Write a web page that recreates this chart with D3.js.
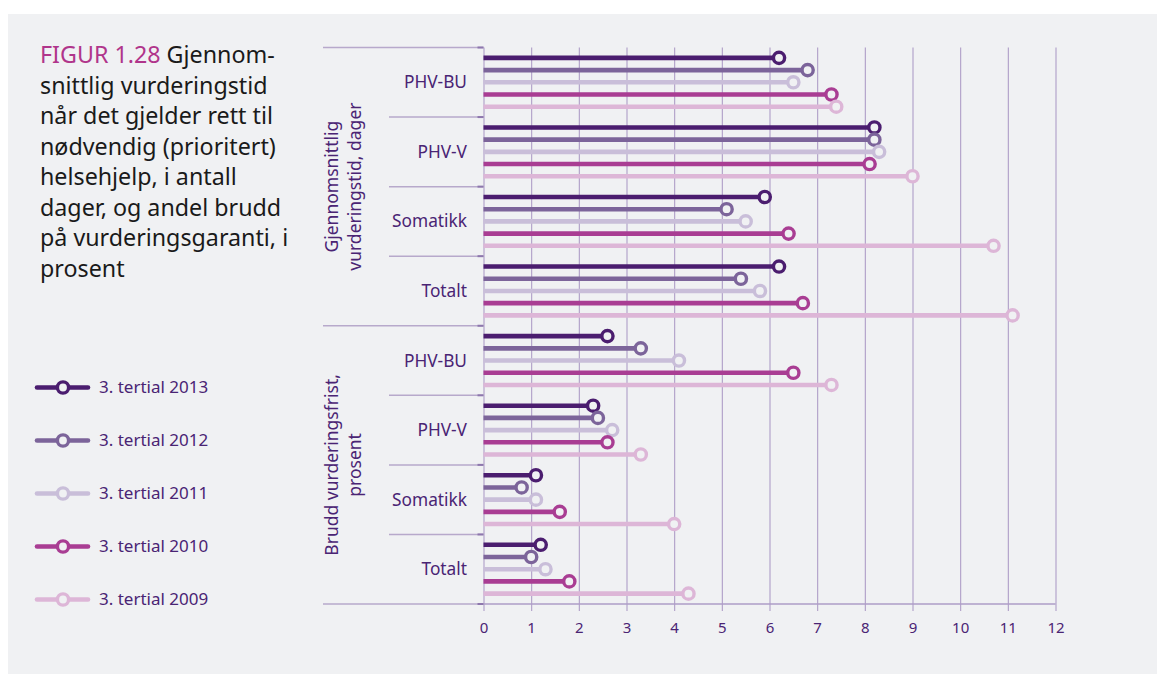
<!DOCTYPE html>
<html lang="no">
<head>
<meta charset="utf-8">
<title>Figur 1.28</title>
<script src="https://cdn.jsdelivr.net/npm/d3@7"></script>
<style>
  html, body { margin: 0; padding: 0; background: #ffffff; }
  svg { display: block; font-family: "Noto Sans", "Open Sans", sans-serif; }
</style>
</head>
<body>
<svg id="chart" width="1157" height="674"></svg>
<script>
// Rows: four categories in each of two sections
const categories = ["PHV-BU", "PHV-V", "Somatikk", "Totalt"];
const sections = [
  ["Gjennomsnittlig", "vurderingstid, dager"],
  ["Brudd vurderingsfrist,", "prosent"]
];
const seriesNames = ["3. tertial 2013", "3. tertial 2012", "3. tertial 2011", "3. tertial 2010", "3. tertial 2009"];

// Values per series: first four = days, last four = percent breaches
const values2013 = [6.2, 8.2, 5.9, 6.2, 2.6, 2.3, 1.1, 1.2];
const values2012 = [6.8, 8.2, 5.1, 5.4, 3.3, 2.4, 0.8, 1.0];
const values2011 = [6.5, 8.3, 5.5, 5.8, 4.1, 2.7, 1.1, 1.3];
const values2010 = [7.3, 8.1, 6.4, 6.7, 6.5, 2.6, 1.6, 1.8];
const values2009 = [7.4, 9.0, 10.7, 11.1, 7.3, 3.3, 4.0, 4.3];

const xTicks = [0, 1, 2, 3, 4, 5, 6, 7, 8, 9, 10, 11, 12];

const titleLines = [
  "Gjennom-",
  "snittlig vurderingstid",
  "når det gjelder rett til",
  "nødvendig (prioritert)",
  "helsehjelp, i antall",
  "dager, og andel brudd",
  "på vurderingsgaranti, i",
  "prosent"
];

const seriesValues = [values2013, values2012, values2011, values2010, values2009];
const colors = ["#4b1d6f", "#7c649a", "#c9bed9", "#a93d93", "#ddb6d7"];
const bg = "#f0f1f3";
const ink = "#4a2474";
const gridColor = "#ae9dc7";

const svg = d3.select("#chart");

// panel
svg.append("rect").attr("x", 8).attr("y", 14).attr("width", 1157 - 8).attr("height", 674 - 14).attr("fill", bg);

// layout
const plotTop = 47.5, plotBottom = 604, axisLeft = 483.5, axisRight = 1055.5;

const rowKeys = [];
sections.forEach((s, si) => categories.forEach(c => rowKeys.push(si + "|" + c)));

const x = d3.scaleLinear().domain([0, 12]).range([axisLeft, axisRight]);
const y = d3.scaleBand().domain(rowKeys).range([plotTop, plotBottom]);
const ySeries = d3.scalePoint().domain(seriesNames).range([0, y.bandwidth()]).padding(0.85);

// grid + x axis
const xAxis = d3.axisBottom(x)
  .tickValues(xTicks)
  .tickSizeInner(-(plotBottom + 7 - plotTop))
  .tickSizeOuter(0)
  .tickPadding(11)
  .tickFormat(d3.format("d"));

const gx = svg.append("g")
  .attr("transform", `translate(0,${plotBottom + 7})`)
  .call(xAxis);
gx.select(".domain").remove();
gx.selectAll(".tick line").attr("stroke", gridColor).attr("stroke-width", 1.1);
gx.selectAll(".tick text")
  .attr("fill", ink)
  .attr("font-size", 15)
  .attr("font-family", "'Noto Sans', sans-serif");

// horizontal baseline of the value axis
svg.append("line")
  .attr("x1", axisLeft).attr("x2", axisRight)
  .attr("y1", plotBottom).attr("y2", plotBottom)
  .attr("stroke", gridColor).attr("stroke-width", 1.5);

// row separators on the category side
const boundaries = d3.range(rowKeys.length + 1).map(i => plotTop + i * y.step());
boundaries.forEach((b, i) => {
  const isSection = i % categories.length === 0;
  svg.append("line")
    .attr("x1", isSection ? 323 : 389).attr("x2", axisLeft)
    .attr("y1", b).attr("y2", b)
    .attr("stroke", "#b7a9cb").attr("stroke-width", 1.5);
  svg.append("line")
    .attr("x1", axisLeft - 6).attr("x2", axisLeft)
    .attr("y1", b).attr("y2", b)
    .attr("stroke", "#8d77ad").attr("stroke-width", 2);
});

// category labels
svg.append("g").selectAll("text")
  .data(rowKeys)
  .join("text")
  .attr("x", 467)
  .attr("y", d => y(d) + y.bandwidth() / 2)
  .attr("dy", "0.35em")
  .attr("text-anchor", "end")
  .attr("fill", ink)
  .attr("font-size", 17.3)
  .text(d => d.split("|")[1]);

// section labels, rotated
sections.forEach((lines, si) => {
  const first = y(si + "|" + categories[0]);
  const last = y(si + "|" + categories[categories.length - 1]) + y.bandwidth();
  const cy = (first + last) / 2;
  const t = svg.append("text")
    .attr("transform", `translate(345,${cy}) rotate(-90)`)
    .attr("text-anchor", "middle")
    .attr("fill", ink)
    .attr("font-size", 17.5);
  t.append("tspan").attr("x", 0).attr("y", -7).text(lines[0]);
  t.append("tspan").attr("x", 0).attr("y", 15.5).text(lines[1]);
});

// lollipops
const marks = svg.append("g");
seriesNames.forEach((name, k) => {
  const vals = seriesValues[k];
  const g = marks.append("g");
  g.selectAll("line")
    .data(rowKeys)
    .join("line")
    .attr("x1", x(0))
    .attr("x2", (d, i) => x(vals[i]))
    .attr("y1", d => y(d) + ySeries(name))
    .attr("y2", d => y(d) + ySeries(name))
    .attr("stroke", colors[k])
    .attr("stroke-width", 4.6);
  g.selectAll("circle")
    .data(rowKeys)
    .join("circle")
    .attr("cx", (d, i) => x(vals[i]))
    .attr("cy", d => y(d) + ySeries(name))
    .attr("r", 5.6)
    .attr("fill", bg)
    .attr("stroke", colors[k])
    .attr("stroke-width", 3.4);
});

// legend
const legend = svg.append("g");
seriesNames.forEach((name, k) => {
  const ly = 387.5 + k * 53;
  legend.append("line")
    .attr("x1", 37).attr("x2", 88).attr("y1", ly).attr("y2", ly)
    .attr("stroke", colors[k]).attr("stroke-width", 4.6)
    .attr("stroke-linecap", "round");
  legend.append("circle")
    .attr("cx", 63).attr("cy", ly).attr("r", 5.6)
    .attr("fill", bg).attr("stroke", colors[k]).attr("stroke-width", 3.4);
  legend.append("text")
    .attr("x", 99).attr("y", ly).attr("dy", "0.35em")
    .attr("fill", ink).attr("font-size", 17)
    .text(name);
});

// title block
const title = svg.append("g").attr("transform", "translate(40,0) scale(0.99,1)");
titleLines.forEach((line, i) => {
  const t = title.append("text")
    .attr("x", 0)
    .attr("y", 63.3 + i * 30.5)
    .attr("font-size", 23.5)
    .attr("fill", "#1a1a1a");
  if (i === 0) {
    t.append("tspan").attr("fill", "#b0358b").text("FIGUR 1.28 ");
  }
  t.append("tspan").text(line);
});
</script>
</body>
</html>
